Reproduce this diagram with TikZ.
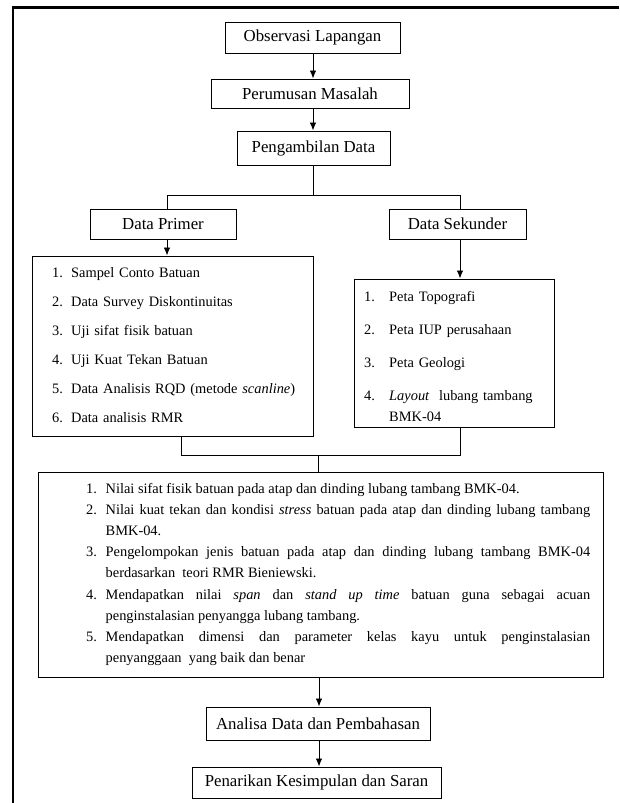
\documentclass[tikz,border=0pt]{standalone}
\usepackage{fontspec}
\setmainfont{Liberation Serif}
\usetikzlibrary{arrows.meta}
\newcommand\ttlfont{\fontsize{16.8}{20}\selectfont}
\newcommand\lstfont{\fontsize{14.4}{29}\selectfont}
\newcommand\rsfont{\fontsize{14.4}{33}\selectfont}
\newcommand\bigfont{\fontsize{14.4}{21.1}\selectfont}
\newcommand\itm[1]{\noindent\hangindent=19.5pt\hangafter=1\makebox[19.5pt][l]{#1}}
\begin{document}
\begin{tikzpicture}[x=1pt,y=-1pt,
  box/.style={draw, line width=1pt, inner sep=0pt, font=\ttlfont},
  conn/.style={line width=0.9pt},
  arr/.style={conn, -{Latex[length=8pt,width=6.5pt]}},
  txt/.style={inner sep=0pt, anchor=base west, align=left}]
\useasboundingbox[fill=white] (0,0) rectangle (619,803);
\draw[line width=2.2pt] (619,7.5) -- (13,7.5) -- (13,803);

\node[box, minimum width=175pt, minimum height=31pt] (obs) at (312.5,37.5) {Observasi Lapangan};
\node[box, minimum width=198pt, minimum height=29pt] (per) at (310,93.5) {Perumusan Masalah};
\node[box, minimum width=153pt, minimum height=34pt] (pen) at (313.5,148) {Pengambilan Data};
\node[box, minimum width=146pt, minimum height=30pt] (dp) at (163,224) {Data Primer};
\node[box, minimum width=137pt, minimum height=30pt] (ds) at (457.5,224) {Data Sekunder};
\node[box, minimum width=281pt, minimum height=180pt] (lp) at (172.5,346) {};
\node[box, minimum width=200pt, minimum height=148pt] (rs) at (454,353) {};
\node[box, minimum width=565pt, minimum height=205pt] (big) at (320.5,574.5) {};
\node[box, minimum width=224pt, minimum height=33pt] (ana) at (318,723.5) {Analisa Data dan Pembahasan};
\node[box, minimum width=249pt, minimum height=31pt] (pnr) at (316.5,782.5) {Penarikan Kesimpulan dan Saran};

\coordinate (jt) at (313,195);
\coordinate (jl) at (167,195);
\coordinate (jr) at (460,195);
\coordinate (ml) at (181,455);
\coordinate (mr) at (460,455);
\coordinate (mc) at (318,455);
\coordinate (bc) at (319,700);

\draw[arr] (obs.south -| jt) -- (per.north -| jt);
\draw[arr] (per.south -| jt) -- (pen.north -| jt);
\draw[conn] (pen.south -| jt) -- (jt);
\draw[conn] (dp.north -| jl) -- (jl) -- (jr) -- (ds.north -| jr);
\draw[arr] (dp.south -| jl) -- (lp.north -| jl);
\draw[arr] (ds.south -| jr) -- (rs.north -| jr);
\draw[conn] (lp.south -| ml) -- (ml) -- (mr) -- (rs.south -| mr);
\draw[conn] (mc) -- (big.north -| mc);
\draw[arr] (big.south -| bc) -- (ana.north -| bc);
\draw[arr] (ana.south -| bc) -- (pnr.north -| bc);

\node[txt, text width=255pt, font=\lstfont] (lpt) at (52,277) {%
\makebox[19pt][l]{1.}Sampel Conto Batuan\\
\makebox[19pt][l]{2.}Data Survey Diskontinuitas\\
\makebox[19pt][l]{3.}Uji sifat fisik batuan\\
\makebox[19pt][l]{4.}Uji Kuat Tekan Batuan\\
\makebox[19pt][l]{5.}Data Analisis RQD (metode \textit{scanline})\\
\makebox[19pt][l]{6.}Data analisis RMR};

\node[txt, text width=185pt, font=\rsfont] (rst) at (364,301.5) {%
\makebox[25pt][l]{1.}Peta Topografi\\
\makebox[25pt][l]{2.}Peta IUP perusahaan\\
\makebox[25pt][l]{3.}Peta Geologi\\
\makebox[25pt][l]{4.}\textit{Layout}\ \ lubang tambang\\[-12pt]
\hspace*{25pt}BMK-04};

\node[inner sep=0pt, anchor=base west, text width=504pt, align=justify, font=\bigfont] (bgt) at (86,493.5) {%
\itm{1.}Nilai sifat fisik batuan pada atap dan dinding lubang tambang BMK-04.\par
\itm{2.}Nilai kuat tekan dan kondisi \textit{stress} batuan pada atap dan dinding lubang tambang\linebreak BMK-04.\par
\itm{3.}Pengelompokan jenis batuan pada atap dan dinding lubang tambang BMK-04\linebreak berdasarkan\ \ teori RMR Bieniewski.\par
\itm{4.}Mendapatkan nilai \textit{span} dan \textit{stand up time} batuan guna sebagai acuan\linebreak penginstalasian penyangga lubang tambang.\par
\itm{5.}Mendapatkan dimensi dan parameter kelas kayu untuk penginstalasian\linebreak penyanggaan\ \ yang baik dan benar\par};
\end{tikzpicture}
\end{document}
